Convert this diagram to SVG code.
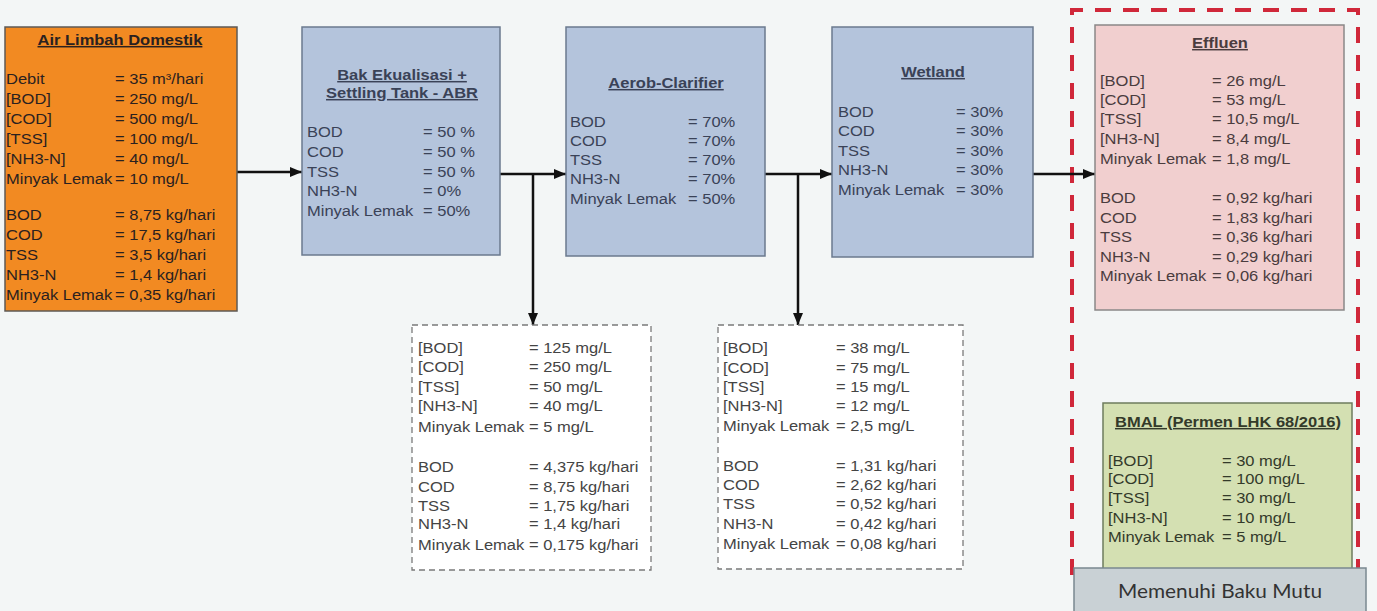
<svg xmlns="http://www.w3.org/2000/svg" width="1377" height="611" viewBox="0 0 1377 611">
<defs>
<style>
text{font-family:"Liberation Sans",Arial,sans-serif;font-size:15px;fill:#2f2f33}
.t{font-weight:bold;text-anchor:middle;text-decoration:underline}
.bl text{fill:#3a4257}
.or text{fill:#2a2120}
.pk text{fill:#4a3c3e}
.gr text{fill:#333a2a}
.ds text{fill:#444}
.box{stroke-width:1.5}
.conn line,.conn path{stroke:#111;stroke-width:2.5;fill:none}
</style>
<marker id="ah" viewBox="0 0 12 10" refX="12" refY="5" markerWidth="12" markerHeight="10" markerUnits="userSpaceOnUse" orient="auto">
<path d="M0,0 L12,5 L0,10 z" fill="#111"/>
</marker>
</defs>
<rect x="0" y="0" width="1377" height="611" fill="#f3f6f6"/>

<g id="boundary">
<path d="M1072,575 V10 H1358 V575" fill="none" stroke="#d0283a" stroke-width="4" stroke-dasharray="16 12"/>
</g>

<g class="conn" id="connectors">
<line x1="237" y1="172" x2="302" y2="172" marker-end="url(#ah)"/>
<line x1="500" y1="174" x2="566" y2="174" marker-end="url(#ah)"/>
<line x1="533" y1="174" x2="533" y2="325" marker-end="url(#ah)"/>
<line x1="765" y1="174" x2="832" y2="174" marker-end="url(#ah)"/>
<line x1="798" y1="174" x2="798" y2="325" marker-end="url(#ah)"/>
<line x1="1033" y1="174" x2="1095" y2="174" marker-end="url(#ah)"/>
</g>

<g id="air-limbah" class="or">
<rect class="box" x="5" y="27" width="232" height="284" fill="#f28a22" stroke="#5e5a55"/>
<g transform="translate(6 0) scale(1.1 1)">
<text class="t" x="103.6" y="45">Air Limbah Domestik</text>
<text x="0" y="84">Debit</text><text x="99.1" y="84">= 35 m³/hari</text>
<text x="0" y="104">[BOD]</text><text x="99.1" y="104">= 250 mg/L</text>
<text x="0" y="124">[COD]</text><text x="99.1" y="124">= 500 mg/L</text>
<text x="0" y="144">[TSS]</text><text x="99.1" y="144">= 100 mg/L</text>
<text x="0" y="164">[NH3-N]</text><text x="99.1" y="164">= 40 mg/L</text>
<text x="0" y="184">Minyak Lemak</text><text x="99.1" y="184">= 10 mg/L</text>
<text x="0" y="220">BOD</text><text x="99.1" y="220">= 8,75 kg/hari</text>
<text x="0" y="240">COD</text><text x="99.1" y="240">= 17,5 kg/hari</text>
<text x="0" y="260">TSS</text><text x="99.1" y="260">= 3,5 kg/hari</text>
<text x="0" y="280">NH3-N</text><text x="99.1" y="280">= 1,4 kg/hari</text>
<text x="0" y="300">Minyak Lemak</text><text x="99.1" y="300">= 0,35 kg/hari</text>
</g>
</g>

<g id="bak-ekualisasi" class="bl">
<rect class="box" x="302" y="27" width="198" height="228" fill="#b4c4dc" stroke="#6b7a8e"/>
<g transform="translate(307 0) scale(1.1 1)">
<text class="t" x="86.4" y="80">Bak Ekualisasi +</text>
<text class="t" x="86.4" y="98">Settling Tank - ABR</text>
<text x="0" y="137">BOD</text><text x="105.5" y="137">= 50 %</text>
<text x="0" y="157">COD</text><text x="105.5" y="157">= 50 %</text>
<text x="0" y="177">TSS</text><text x="105.5" y="177">= 50 %</text>
<text x="0" y="196">NH3-N</text><text x="105.5" y="196">= 0%</text>
<text x="0" y="216">Minyak Lemak</text><text x="105.5" y="216">= 50%</text>
</g>
</g>

<g id="aerob-clarifier" class="bl">
<rect class="box" x="566" y="27" width="199" height="229" fill="#b4c4dc" stroke="#6b7a8e"/>
<g transform="translate(570 0) scale(1.1 1)">
<text class="t" x="87.3" y="88">Aerob-Clarifier</text>
<text x="0" y="127">BOD</text><text x="107.3" y="127">= 70%</text>
<text x="0" y="146">COD</text><text x="107.3" y="146">= 70%</text>
<text x="0" y="165">TSS</text><text x="107.3" y="165">= 70%</text>
<text x="0" y="184">NH3-N</text><text x="107.3" y="184">= 70%</text>
<text x="0" y="204">Minyak Lemak</text><text x="107.3" y="204">= 50%</text>
</g>
</g>

<g id="wetland" class="bl">
<rect class="box" x="832" y="27" width="201" height="230" fill="#b4c4dc" stroke="#6b7a8e"/>
<g transform="translate(838 0) scale(1.1 1)">
<text class="t" x="86.4" y="77">Wetland</text>
<text x="0" y="117">BOD</text><text x="107.3" y="117">= 30%</text>
<text x="0" y="136">COD</text><text x="107.3" y="136">= 30%</text>
<text x="0" y="156">TSS</text><text x="107.3" y="156">= 30%</text>
<text x="0" y="175">NH3-N</text><text x="107.3" y="175">= 30%</text>
<text x="0" y="195">Minyak Lemak</text><text x="107.3" y="195">= 30%</text>
</g>
</g>

<g id="effluen" class="pk">
<rect class="box" x="1095" y="25" width="249" height="285" fill="#f1cfcf" stroke="#8a8888"/>
<g transform="translate(1100 0) scale(1.1 1)">
<text class="t" x="109.1" y="48">Effluen</text>
<text x="0" y="86">[BOD]</text><text x="101.8" y="86">= 26 mg/L</text>
<text x="0" y="105">[COD]</text><text x="101.8" y="105">= 53 mg/L</text>
<text x="0" y="124">[TSS]</text><text x="101.8" y="124">= 10,5 mg/L</text>
<text x="0" y="144">[NH3-N]</text><text x="101.8" y="144">= 8,4 mg/L</text>
<text x="0" y="164">Minyak Lemak</text><text x="101.8" y="164">= 1,8 mg/L</text>
<text x="0" y="203">BOD</text><text x="101.8" y="203">= 0,92 kg/hari</text>
<text x="0" y="223">COD</text><text x="101.8" y="223">= 1,83 kg/hari</text>
<text x="0" y="242">TSS</text><text x="101.8" y="242">= 0,36 kg/hari</text>
<text x="0" y="262">NH3-N</text><text x="101.8" y="262">= 0,29 kg/hari</text>
<text x="0" y="281">Minyak Lemak</text><text x="101.8" y="281">= 0,06 kg/hari</text>
</g>
</g>

<g id="outlet-1" class="ds">
<rect x="412" y="325" width="239" height="245" fill="#ffffff" stroke="#7a7a7a" stroke-width="1.3" stroke-dasharray="6 4"/>
<g transform="translate(418 0) scale(1.1 1)">
<text x="0" y="353">[BOD]</text><text x="100.9" y="353">= 125 mg/L</text>
<text x="0" y="372">[COD]</text><text x="100.9" y="372">= 250 mg/L</text>
<text x="0" y="392">[TSS]</text><text x="100.9" y="392">= 50 mg/L</text>
<text x="0" y="411">[NH3-N]</text><text x="100.9" y="411">= 40 mg/L</text>
<text x="0" y="432">Minyak Lemak</text><text x="100.9" y="432">= 5 mg/L</text>
<text x="0" y="472">BOD</text><text x="100.9" y="472">= 4,375 kg/hari</text>
<text x="0" y="492">COD</text><text x="100.9" y="492">= 8,75 kg/hari</text>
<text x="0" y="511">TSS</text><text x="100.9" y="511">= 1,75 kg/hari</text>
<text x="0" y="529">NH3-N</text><text x="100.9" y="529">= 1,4 kg/hari</text>
<text x="0" y="550">Minyak Lemak</text><text x="100.9" y="550">= 0,175 kg/hari</text>
</g>
</g>

<g id="outlet-2" class="ds">
<rect x="718" y="325" width="245" height="244" fill="#ffffff" stroke="#7a7a7a" stroke-width="1.3" stroke-dasharray="6 4"/>
<g transform="translate(723 0) scale(1.1 1)">
<text x="0" y="353">[BOD]</text><text x="102.7" y="353">= 38 mg/L</text>
<text x="0" y="373">[COD]</text><text x="102.7" y="373">= 75 mg/L</text>
<text x="0" y="392">[TSS]</text><text x="102.7" y="392">= 15 mg/L</text>
<text x="0" y="411">[NH3-N]</text><text x="102.7" y="411">= 12 mg/L</text>
<text x="0" y="431">Minyak Lemak</text><text x="102.7" y="431">= 2,5 mg/L</text>
<text x="0" y="471">BOD</text><text x="102.7" y="471">= 1,31 kg/hari</text>
<text x="0" y="490">COD</text><text x="102.7" y="490">= 2,62 kg/hari</text>
<text x="0" y="509">TSS</text><text x="102.7" y="509">= 0,52 kg/hari</text>
<text x="0" y="529">NH3-N</text><text x="102.7" y="529">= 0,42 kg/hari</text>
<text x="0" y="549">Minyak Lemak</text><text x="102.7" y="549">= 0,08 kg/hari</text>
</g>
</g>

<g id="bmal" class="gr">
<rect class="box" x="1103" y="403" width="249" height="185" fill="#d4e0b2" stroke="#6e7c5e"/>
<g transform="translate(1108 0) scale(1.1 1)">
<text class="t" x="109.1" y="427">BMAL (Permen LHK 68/2016)</text>
<text x="0" y="466">[BOD]</text><text x="103.6" y="466">= 30 mg/L</text>
<text x="0" y="484">[COD]</text><text x="103.6" y="484">= 100 mg/L</text>
<text x="0" y="503">[TSS]</text><text x="103.6" y="503">= 30 mg/L</text>
<text x="0" y="523">[NH3-N]</text><text x="103.6" y="523">= 10 mg/L</text>
<text x="0" y="542">Minyak Lemak</text><text x="103.6" y="542">= 5 mg/L</text>
</g>
</g>

<g id="memenuhi">
<rect x="1074" y="568" width="292" height="45" fill="#c9d1d5" stroke="#7a8890" stroke-width="1.5"/>
<text x="1220" y="598" text-anchor="middle" textLength="204" lengthAdjust="spacingAndGlyphs" style="font-family:Lato,'Liberation Sans',sans-serif;font-size:19px;fill:#333">Memenuhi Baku Mutu</text>
</g>
</svg>
